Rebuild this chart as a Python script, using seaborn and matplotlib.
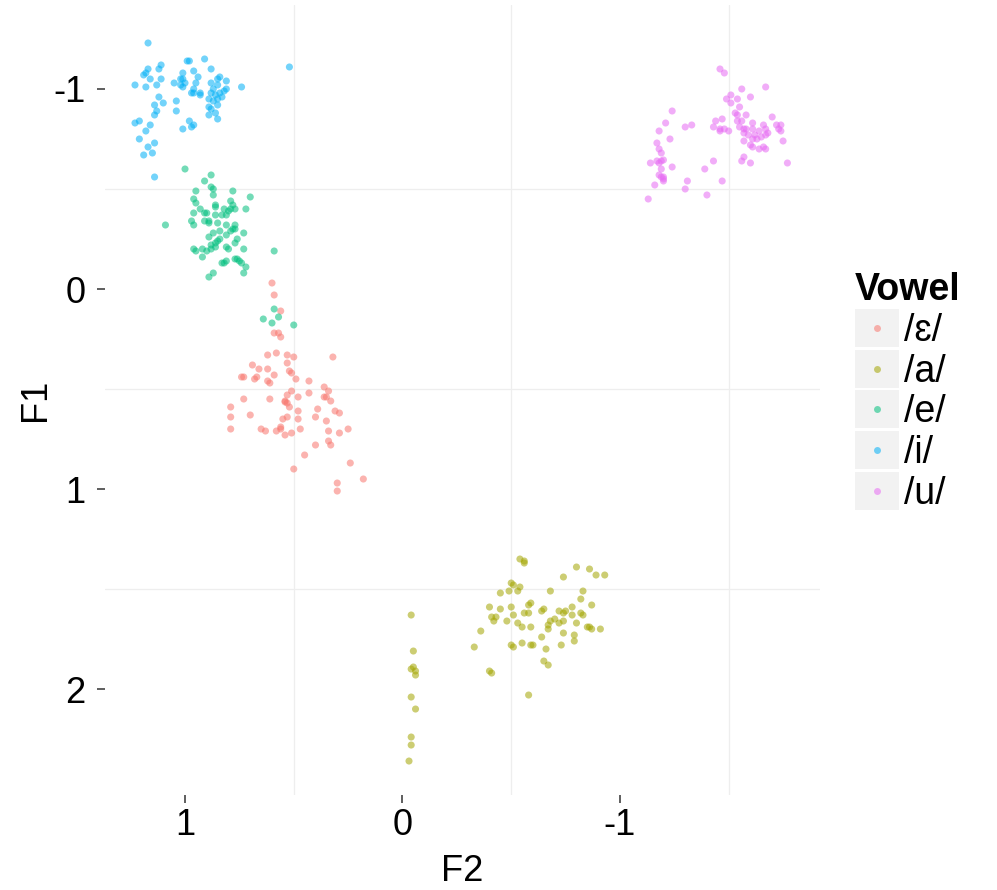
import matplotlib
matplotlib.use("Agg")
import matplotlib.pyplot as plt
from matplotlib.lines import Line2D
import seaborn as sns
import pandas as pd

# vowel categories and ggplot-like hue colours
VOWELS = ['/ɛ/', '/a/', '/e/', '/i/', '/u/']
COLORS = ['#F8766D', '#A3A500', '#00BF7D', '#00B0F6', '#E76BF3']

# /ɛ/
eh_f2 = [0.60, 0.59, 0.56, 0.59, 0.57, 0.56, 0.62, 0.58, 0.53, 0.50, 0.32, 0.69, 0.66, 0.62,
         0.53, 0.52, 0.51, 0.59, 0.74, 0.73, 0.68, 0.67, 0.62, 0.61, 0.49, 0.43, 0.36, 0.34,
         0.51, 0.53, 0.54, 0.53, 0.54, 0.52, 0.43, 0.36, 0.35, 0.33, 0.73, 0.61, 0.48, 0.39,
         0.48, 0.79, 0.31, 0.29, 0.70, 0.79, 0.55, 0.53, 0.48, 0.40, 0.35, 0.79, 0.65, 0.63,
         0.56, 0.56, 0.58, 0.54, 0.51, 0.47, 0.34, 0.29, 0.25, 0.34, 0.33, 0.40, 0.45, 0.50,
         0.24, 0.18, 0.30, 0.30]
eh_f1 = [-0.03, 0.03, 0.11, 0.22, 0.22, 0.24, 0.33, 0.32, 0.33, 0.34, 0.34, 0.38, 0.40, 0.40,
         0.37, 0.41, 0.42, 0.43, 0.44, 0.44, 0.45, 0.44, 0.46, 0.47, 0.45, 0.46, 0.49, 0.51,
         0.51, 0.53, 0.56, 0.57, 0.565, 0.59, 0.52, 0.54, 0.54, 0.56, 0.55, 0.55, 0.54, 0.60,
         0.61, 0.59, 0.61, 0.62, 0.63, 0.64, 0.65, 0.64, 0.65, 0.64, 0.66, 0.70, 0.70, 0.71,
         0.69, 0.70, 0.71, 0.73, 0.72, 0.70, 0.71, 0.72, 0.70, 0.76, 0.78, 0.78, 0.83, 0.90,
         0.87, 0.95, 0.97, 1.01]

# /a/
a_f2 = [-0.54, -0.56, -0.56, -0.80, -0.86, -0.89, -0.93, -0.74, -0.50, -0.51, -0.54, -0.49,
        -0.53, -0.45, -0.68, -0.83, -0.82, -0.87, -0.58, -0.59, -0.40, -0.45, -0.50, -0.65,
        -0.64, -0.78, -0.75, -0.72, -0.74, -0.78, -0.82, -0.83, -0.56, -0.58, -0.51, -0.41,
        -0.43, -0.42, -0.48, -0.53, -0.55, -0.59, -0.68, -0.70, -0.74, -0.72, -0.67, -0.67,
        -0.80, -0.85, -0.86, -0.87, -0.91, -0.36, -0.74, -0.79, -0.79, -0.64, -0.33, -0.51,
        -0.50, -0.55, -0.59, -0.60, -0.66, -0.73, -0.65, -0.67, -0.41, -0.40, -0.58,
        -0.04, -0.05, -0.05, -0.04, -0.06, -0.06, -0.04, -0.06, -0.04, -0.04, -0.03]
a_f1 = [1.35, 1.36, 1.37, 1.39, 1.40, 1.43, 1.43, 1.44, 1.47, 1.48, 1.49, 1.51,
        1.51, 1.52, 1.51, 1.51, 1.55, 1.58, 1.58, 1.57, 1.59, 1.60, 1.59, 1.60,
        1.61, 1.59, 1.61, 1.61, 1.62, 1.63, 1.62, 1.63, 1.62, 1.62, 1.63, 1.64,
        1.64, 1.66, 1.66, 1.67, 1.69, 1.69, 1.66, 1.65, 1.66, 1.67, 1.70, 1.68,
        1.67, 1.69, 1.69, 1.70, 1.70, 1.71, 1.72, 1.73, 1.76, 1.74, 1.79, 1.79,
        1.78, 1.77, 1.78, 1.78, 1.80, 1.78, 1.86, 1.88, 1.92, 1.91, 2.03,
        1.63, 1.81, 1.89, 1.90, 1.91, 1.93, 2.04, 2.10, 2.24, 2.28, 2.36]

# /e/
e_f2 = [1.00, 0.88, 0.91, 0.88, 0.87, 0.87, 0.95, 0.78, 0.70, 0.96, 0.95, 0.79, 0.78, 0.86,
        0.86, 0.96, 0.93, 0.91, 0.90, 0.86, 0.83, 0.82, 0.80, 0.79, 0.77, 0.81, 0.72, 0.97,
        0.96, 1.09, 0.91, 0.89, 0.89, 0.85, 0.81, 0.77, 0.78, 0.77, 0.79, 0.73, 0.87, 0.89,
        0.84, 0.81, 0.84, 0.85, 0.86, 0.76, 0.88, 0.92, 0.96, 0.95, 0.92, 0.90, 0.88, 0.86,
        0.81, 0.80, 0.77, 0.73, 0.59, 0.82, 0.81, 0.83, 0.77, 0.76, 0.75, 0.74, 0.72, 0.73,
        0.87, 0.89, 0.59, 0.57, 0.64, 0.60, 0.50]
e_f1 = [-0.60, -0.57, -0.54, -0.51, -0.50, -0.47, -0.49, -0.49, -0.46, -0.45, -0.43, -0.44,
        -0.42, -0.42, -0.41, -0.38, -0.40, -0.38, -0.38, -0.37, -0.37, -0.40, -0.39, -0.40,
        -0.40, -0.37, -0.40, -0.34, -0.32, -0.32, -0.34, -0.34, -0.33, -0.33, -0.32, -0.32,
        -0.30, -0.30, -0.29, -0.28, -0.28, -0.26, -0.29, -0.27, -0.25, -0.24, -0.23, -0.25,
        -0.22, -0.20, -0.20, -0.19, -0.16, -0.19, -0.20, -0.21, -0.21, -0.20, -0.23, -0.20,
        -0.19, -0.13, -0.14, -0.13, -0.15, -0.15, -0.14, -0.13, -0.11, -0.08, -0.08, -0.06,
        0.10, 0.14, 0.15, 0.17, 0.18]

# /i/
i_f2 = [1.17, 0.52, 0.99, 0.98, 0.91, 0.88, 1.11, 1.12, 1.17, 1.18, 1.19, 0.96, 1.01, 0.94,
        1.11, 1.16, 1.23, 1.18, 1.13, 1.05, 1.02, 1.01, 1.02, 1.01, 1.00, 0.95, 0.97, 0.96,
        0.93, 0.93, 0.96, 0.88, 0.85, 0.84, 0.81, 0.81, 0.85, 0.87, 0.88, 0.89, 0.86, 0.84,
        0.83, 0.82, 0.85, 0.87, 0.85, 0.88, 0.89, 0.86, 0.85, 0.89, 0.74, 1.12, 1.10, 1.14,
        1.13, 1.14, 1.04, 1.04, 1.23, 1.21, 1.16, 0.98, 0.96, 0.97, 1.01, 1.18, 1.21, 1.14,
        1.17, 1.15, 1.19, 1.14]
i_f1 = [-1.23, -1.11, -1.14, -1.14, -1.15, -1.10, -1.12, -1.10, -1.10, -1.08, -1.07, -1.09,
        -1.08, -1.06, -1.05, -1.05, -1.02, -1.01, -1.02, -1.03, -1.05, -1.05, -1.02, -1.01,
        -1.03, -1.03, -0.98, -0.98, -0.98, -0.97, -1.00, -1.03, -1.05, -1.06, -1.04, -1.00,
        -1.02, -1.00, -0.98, -0.95, -0.97, -0.98, -0.96, -0.99, -0.95, -0.94, -0.92, -0.90,
        -0.87, -0.88, -0.85, -0.91, -1.01, -0.96, -0.93, -0.92, -0.89, -0.87, -0.94, -0.89,
        -0.83, -0.84, -0.82, -0.84, -0.82, -0.81, -0.80, -0.79, -0.75, -0.73, -0.71, -0.68,
        -0.67, -0.56]

# /u/
u_f2 = [-1.46, -1.48, -1.67, -1.56, -1.51, -1.49, -1.51, -1.54, -1.60, -1.24, -1.55, -1.53,
        -1.54, -1.58, -1.21, -1.47, -1.44, -1.43, -1.46, -1.48, -1.50, -1.46, -1.30, -1.33,
        -1.54, -1.56, -1.55, -1.57, -1.58, -1.61, -1.61, -1.57, -1.59, -1.57, -1.66, -1.67,
        -1.68, -1.64, -1.62, -1.63, -1.61, -1.65, -1.60, -1.61, -1.64, -1.66, -1.67, -1.67,
        -1.70, -1.72, -1.74, -1.73, -1.74, -1.75, -1.77, -1.18, -1.23, -1.17, -1.18, -1.19,
        -1.14, -1.17, -1.19, -1.20, -1.18, -1.24, -1.19, -1.18, -1.19, -1.20, -1.20, -1.20,
        -1.16, -1.13, -1.31, -1.30, -1.39, -1.43, -1.40, -1.47, -1.57, -1.56, -1.60]
u_f1 = [-1.10, -1.08, -1.01, -1.00, -0.97, -0.95, -0.93, -0.95, -0.96, -0.89, -0.91, -0.88,
        -0.87, -0.87, -0.83, -0.85, -0.84, -0.81, -0.80, -0.80, -0.79, -0.79, -0.81, -0.82,
        -0.84, -0.84, -0.81, -0.80, -0.80, -0.83, -0.80, -0.78, -0.77, -0.74, -0.82, -0.80,
        -0.78, -0.79, -0.77, -0.75, -0.75, -0.76, -0.72, -0.71, -0.70, -0.71, -0.70, -0.77,
        -0.86, -0.82, -0.82, -0.80, -0.79, -0.74, -0.63, -0.79, -0.75, -0.73, -0.70, -0.68,
        -0.63, -0.64, -0.64, -0.645, -0.63, -0.61, -0.60, -0.57, -0.56, -0.56, -0.55, -0.54,
        -0.52, -0.45, -0.54, -0.50, -0.60, -0.64, -0.47, -0.54, -0.66, -0.64, -0.63]

frames = []
for v, f2, f1 in zip(VOWELS, [eh_f2, a_f2, e_f2, i_f2, u_f2], [eh_f1, a_f1, e_f1, i_f1, u_f1]):
    frames.append(pd.DataFrame({'F2': f2, 'F1': f1, 'Vowel': v}))
df = pd.concat(frames, ignore_index=True)

sns.set_style('white')
plt.rcParams['font.family'] = ['Liberation Sans', 'DejaVu Sans']
plt.rcParams['text.color'] = 'black'
plt.rcParams['axes.labelcolor'] = 'black'

fig = plt.figure(figsize=(9.97, 8.9), dpi=100)
ax = fig.add_axes([0.1053, 0.1067, 0.7172, 0.8877])

sns.scatterplot(data=df, x='F2', y='F1', hue='Vowel', hue_order=VOWELS,
                palette=COLORS, s=26, alpha=0.55, edgecolor='none', legend=False, ax=ax)

# reversed axes like the vowel chart convention
ax.set_xlim(1.368, -1.92)
ax.set_ylim(2.53, -1.42)
ax.set_xticks([1, 0, -1])
ax.set_xticklabels(['1', '0', '-1'])
ax.set_yticks([-1, 0, 1, 2])
ax.set_yticklabels(['-1', '0', '1', '2'])
ax.set_xticks([0.5, -0.5, -1.5], minor=True)
ax.set_yticks([-0.5, 0.5, 1.5], minor=True)
ax.grid(False)
ax.grid(which='minor', color='#EEEEEE', linewidth=0.9)
ax.set_axisbelow(True)
for sp in ax.spines.values():
    sp.set_visible(False)

ax.tick_params(which='major', direction='out', length=6, width=1.1, color='#333333',
               labelsize=26, labelcolor='black', bottom=True, left=True)
ax.tick_params(axis='y', pad=8)
ax.tick_params(axis='x', pad=3)
ax.tick_params(which='minor', length=0)
ax.set_xlabel('F2', fontsize=26, labelpad=8)
ax.set_ylabel('F1', fontsize=26, labelpad=0)

# legend keys: wide grey box with a small dot on top
key_shape = [(-1.18, -1), (1.18, -1), (1.18, 1), (-1.18, 1), (-1.18, -1)]
handles = []
for c in COLORS:
    box = Line2D([], [], marker=key_shape, markersize=32, color='#F2F2F2',
                 markeredgewidth=0, linestyle='none')
    dot = Line2D([], [], marker='o', markersize=5, color=c, alpha=0.55,
                 markeredgewidth=0, linestyle='none')
    handles.append((box, dot))

fig.legend(handles, VOWELS, title='Vowel', loc='upper left', bbox_to_anchor=(0.857, 0.694),
           frameon=False, fontsize=27, title_fontproperties={'weight': 'bold', 'size': 27},
           alignment='left', borderpad=0, borderaxespad=0, handlelength=1.2,
           handletextpad=0.13, labelspacing=0.125)

fig.savefig('out.png', dpi=100)
